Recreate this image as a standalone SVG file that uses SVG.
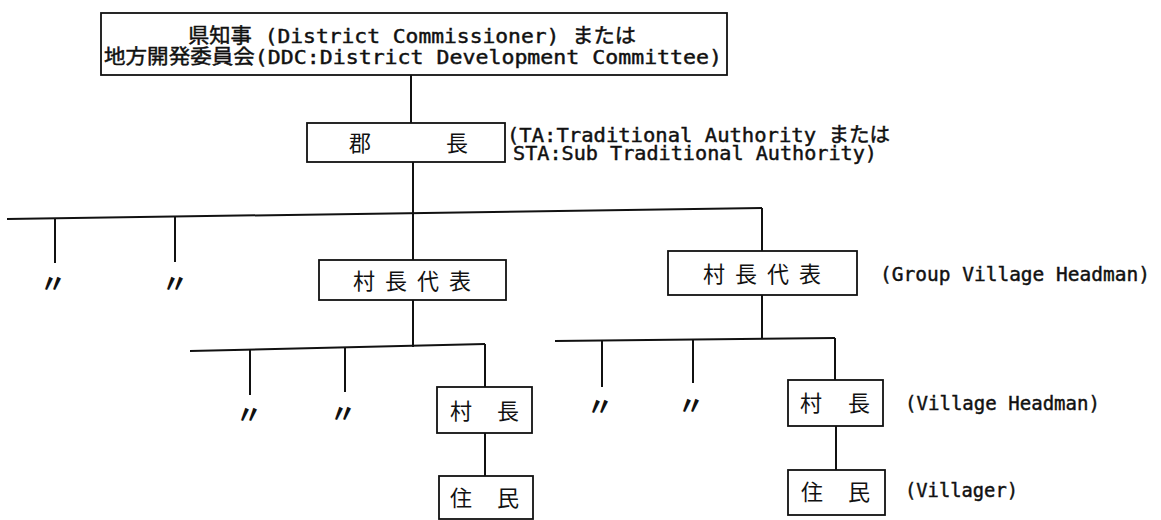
<svg xmlns="http://www.w3.org/2000/svg" width="1161" height="520" viewBox="0 0 1161 520">
<style>
.box{fill:#fff;stroke:#111;stroke-width:1.8}
.ln{fill:none;stroke:#111;stroke-width:2}
.jp{font-family:"Noto Sans CJK JP","Noto Sans CJK SC",sans-serif;font-size:22px;fill:#111}
.lb{font-family:"DejaVu Sans Mono","Noto Sans CJK JP",monospace;font-size:20px;fill:#111;stroke:#111;stroke-width:0.45}
.dt{font-family:"Noto Sans CJK JP",sans-serif;font-size:26px;font-weight:bold;fill:#111;text-anchor:middle}
</style>
<rect width="1161" height="520" fill="#fff"/>
<g id="connectors">
<line class="ln" x1="411" y1="75" x2="411" y2="123"/>
<line class="ln" x1="413" y1="162" x2="413" y2="260"/>
<line class="ln" x1="7" y1="219" x2="762" y2="208"/>
<line class="ln" x1="762" y1="208" x2="762" y2="251"/>
<line class="ln" x1="55" y1="218" x2="55" y2="263"/>
<line class="ln" x1="175" y1="216.5" x2="175" y2="262"/>
<line class="ln" x1="413" y1="300" x2="413" y2="347"/>
<line class="ln" x1="190" y1="351" x2="485" y2="344"/>
<line class="ln" x1="250" y1="350" x2="250" y2="395"/>
<line class="ln" x1="345" y1="348" x2="345" y2="392"/>
<line class="ln" x1="485" y1="344" x2="485" y2="387"/>
<line class="ln" x1="485" y1="433" x2="485" y2="476"/>
<line class="ln" x1="762" y1="295" x2="762" y2="339"/>
<line class="ln" x1="555" y1="341" x2="835" y2="338"/>
<line class="ln" x1="602" y1="341" x2="602" y2="387"/>
<line class="ln" x1="693" y1="340" x2="693" y2="383"/>
<line class="ln" x1="835" y1="338" x2="835" y2="380"/>
<line class="ln" x1="836" y1="426" x2="836" y2="470"/>
</g>
<g id="ditto">
<text class="dt" x="53" y="293">〃</text>
<text class="dt" x="175" y="293">〃</text>
<text class="dt" x="249" y="424">〃</text>
<text class="dt" x="343" y="423">〃</text>
<text class="dt" x="600" y="416">〃</text>
<text class="dt" x="691" y="415">〃</text>
</g>
<g id="district">
<rect class="box" x="101" y="13" width="626" height="62"/>
<text class="lb" x="188" y="43" font-size="21" textLength="448" lengthAdjust="spacingAndGlyphs">県知事 (District Commissioner) または</text>
<text class="lb" x="104" y="64" font-size="21" textLength="618" lengthAdjust="spacingAndGlyphs">地方開発委員会(DDC:District Development Committee)</text>
</g>
<g id="ta">
<rect class="box" x="307" y="123" width="198" height="39"/>
<text class="jp" x="360" y="151" font-size="21" text-anchor="middle">郡</text>
<text class="jp" x="457" y="151" font-size="21" text-anchor="middle">長</text>
<text class="lb" x="507" y="142" font-size="18" textLength="383" lengthAdjust="spacingAndGlyphs">(TA:Traditional Authority または</text>
<text class="lb" x="513" y="160" font-size="18" textLength="364" lengthAdjust="spacingAndGlyphs">STA:Sub Traditional Authority)</text>
</g>
<g id="gvh-left">
<rect class="box" x="319" y="260" width="187" height="40"/>
<text class="jp" x="364" y="289" text-anchor="middle">村</text>
<text class="jp" x="396" y="289" text-anchor="middle">長</text>
<text class="jp" x="428" y="289" text-anchor="middle">代</text>
<text class="jp" x="460" y="289" text-anchor="middle">表</text>
</g>
<g id="gvh-right">
<rect class="box" x="668" y="251" width="189" height="44"/>
<text class="jp" x="714" y="282" text-anchor="middle">村</text>
<text class="jp" x="746" y="282" text-anchor="middle">長</text>
<text class="jp" x="778" y="282" text-anchor="middle">代</text>
<text class="jp" x="810" y="282" text-anchor="middle">表</text>
<text class="lb" x="880" y="281" textLength="270" lengthAdjust="spacingAndGlyphs">(Group Village Headman)</text>
</g>
<g id="vh-left">
<rect class="box" x="437" y="387" width="95" height="46"/>
<text class="jp" x="461" y="419" text-anchor="middle">村</text>
<text class="jp" x="508" y="419" text-anchor="middle">長</text>
</g>
<g id="villager-left">
<rect class="box" x="439" y="476" width="94" height="43"/>
<text class="jp" x="461" y="506" text-anchor="middle">住</text>
<text class="jp" x="508" y="506" text-anchor="middle">民</text>
</g>
<g id="vh-right">
<rect class="box" x="788" y="380" width="95" height="46"/>
<text class="jp" x="811" y="411" text-anchor="middle">村</text>
<text class="jp" x="859" y="411" text-anchor="middle">長</text>
<text class="lb" x="905" y="410" textLength="195" lengthAdjust="spacingAndGlyphs">(Village Headman)</text>
</g>
<g id="villager-right">
<rect class="box" x="788" y="470" width="97" height="45"/>
<text class="jp" x="812" y="500" text-anchor="middle">住</text>
<text class="jp" x="859" y="500" text-anchor="middle">民</text>
<text class="lb" x="905" y="497" textLength="113" lengthAdjust="spacingAndGlyphs">(Villager)</text>
</g>
</svg>
